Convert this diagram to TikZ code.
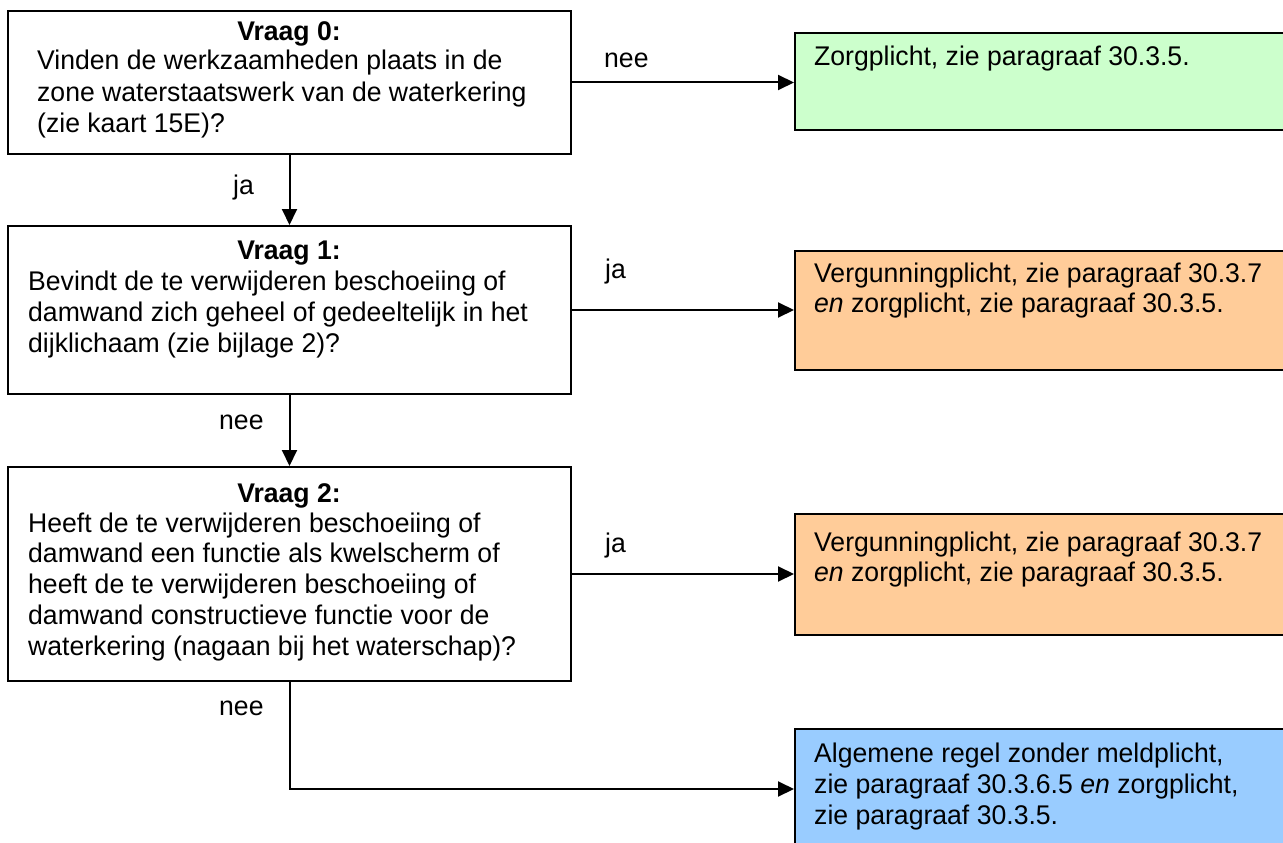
\documentclass[tikz,border=0pt]{standalone}
\usepackage{fontspec}
\setmainfont{Liberation Sans}[FakeStretch=0.985]
\usetikzlibrary{arrows.meta}
\definecolor{groen}{HTML}{CCFFCC}
\definecolor{oranje}{HTML}{FFCC99}
\definecolor{blauw}{HTML}{99CCFF}
\tikzset{
  qbox/.style={draw, line width=2pt, rectangle, anchor=north west, inner sep=0pt, fill=white},
  rbox/.style={draw, line width=2pt, rectangle, anchor=north west, inner sep=0pt},
  ln/.style={anchor=base west, inner sep=0pt, font=\fontsize{27}{31}\selectfont},
  ttl/.style={anchor=base, inner sep=0pt, font=\fontsize{27}{31}\selectfont\bfseries},
  lbl/.style={anchor=base west, inner sep=0pt, font=\fontsize{27}{31}\selectfont},
  arr/.style={line width=2pt, -{Triangle[length=16pt,width=15pt]}},
}
\begin{document}
\begin{tikzpicture}[x=1pt,y=-1pt]
\useasboundingbox (0,0) rectangle (1283,843);
\fill[white] (0,0) rectangle (1283,843);

% question boxes
\node[qbox, minimum width=563pt, minimum height=143pt] (q0) at (7,10) {};
\node[qbox, minimum width=563pt, minimum height=168pt] (q1) at (7,225) {};
\node[qbox, minimum width=563pt, minimum height=214pt] (q2) at (7,466) {};

% result boxes
\node[rbox, fill=groen,  minimum width=500pt, minimum height=97pt]  (r0) at (794,32) {};
\node[rbox, fill=oranje, minimum width=500pt, minimum height=119pt] (r1) at (794,250) {};
\node[rbox, fill=oranje, minimum width=500pt, minimum height=121pt] (r2) at (794,513) {};
\node[rbox, fill=blauw,  minimum width=500pt, minimum height=120pt] (r3) at (794,728) {};

% texts box 0
\node[ttl] (t0) at (289,41) {Vraag 0:};
\node[ln] (t0a) at (37,70) {Vinden de werkzaamheden plaats in de};
\node[ln] (t0b) at (37,101) {zone waterstaatswerk van de waterkering};
\node[ln] (t0c) at (37,132) {(zie kaart 15E)?};

% texts box 1
\node[ttl] (t1) at (289,259) {Vraag 1:};
\node[ln] (t1a) at (28,290) {Bevindt de te verwijderen beschoeiing of};
\node[ln] (t1b) at (28,321) {damwand zich geheel of gedeeltelijk in het};
\node[ln] (t1c) at (28,352) {dijklichaam (zie bijlage 2)?};

% texts box 2
\node[ttl] (t2) at (289,502) {Vraag 2:};
\node[ln] (t2a) at (28,532) {Heeft de te verwijderen beschoeiing of};
\node[ln] (t2b) at (28,562) {damwand een functie als kwelscherm of};
\node[ln] (t2c) at (28,593) {heeft de te verwijderen beschoeiing of};
\node[ln] (t2d) at (28,624) {damwand constructieve functie voor de};
\node[ln] (t2e) at (28,655) {waterkering (nagaan bij het waterschap)?};

% result texts
\node[ln] (s0) at (814,66) {Zorgplicht, zie paragraaf 30.3.5.};
\node[ln] (s1a) at (814,282) {Vergunningplicht, zie paragraaf 30.3.7};
\node[ln] (s1b) at (814,312) {\textit{en} zorgplicht, zie paragraaf 30.3.5.};
\node[ln] (s2a) at (814,551) {Vergunningplicht, zie paragraaf 30.3.7};
\node[ln] (s2b) at (814,581) {\textit{en} zorgplicht, zie paragraaf 30.3.5.};
\node[ln] (s3a) at (814,762) {Algemene regel zonder meldplicht,};
\node[ln] (s3b) at (814,793) {zie paragraaf 30.3.6.5 \textit{en} zorgplicht,};
\node[ln] (s3c) at (814,824) {zie paragraaf 30.3.5.};

% connectors
\draw[arr] (q0.east) -- (q0.east -| r0.west);
\draw[arr] (q0.south) -- (q1.north);
\draw[arr] (q1.east) -- (q1.east -| r1.west);
\draw[arr] (q1.south) -- (q2.north);
\draw[arr] (q2.east) -- (q2.east -| r2.west);
\draw[arr] (q2.south) |- (r3.west);

% connector labels
\node[lbl] (l0) at (604,68) {nee};
\node[lbl] (l1) at (233,194) {ja};
\node[lbl] (l2) at (605,278) {ja};
\node[lbl] (l3) at (219,429) {nee};
\node[lbl] (l4) at (605,552) {ja};
\node[lbl] (l5) at (219,715) {nee};
\end{tikzpicture}
\end{document}
